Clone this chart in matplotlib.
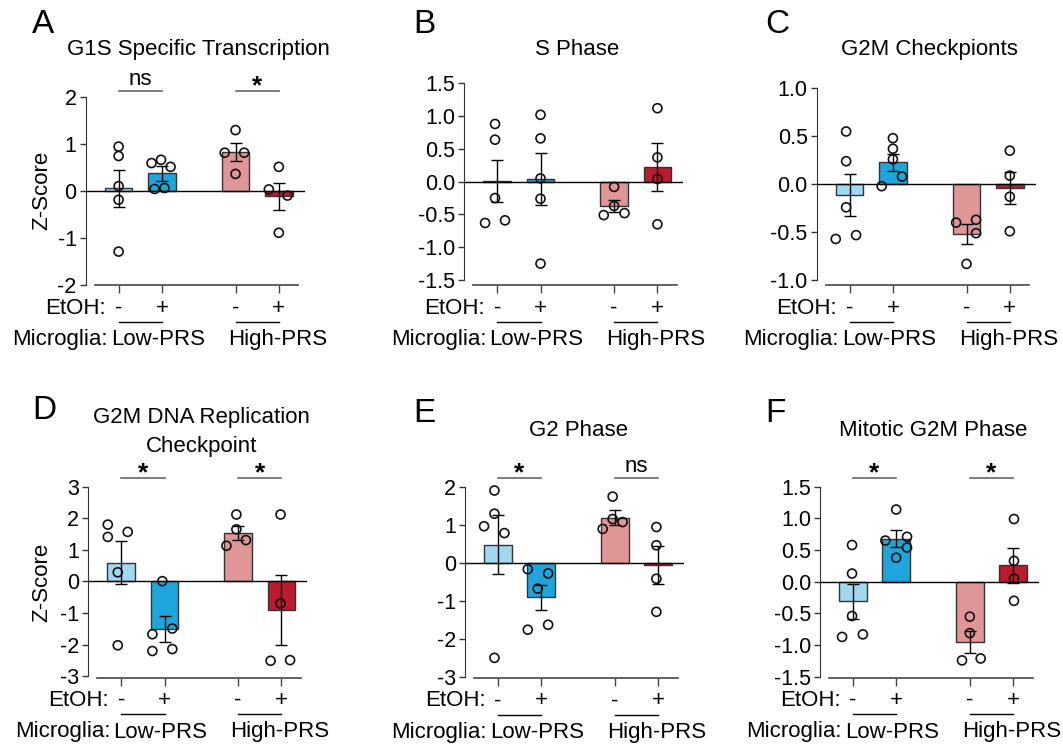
import numpy as np
import matplotlib
matplotlib.use('Agg')
import matplotlib.pyplot as plt
from matplotlib import transforms

plt.rcParams['font.family'] = ['Liberation Sans', 'DejaVu Sans']

W, H = 1063, 749

# groups: Low-PRS -/+ EtOH, High-PRS -/+ EtOH
positions = [0, 1, 2.7, 3.7]
bar_colors = ['#a0d8f0', '#1ea6dc', '#e09597', '#ba1b2e']

# ---- A: G1S Specific Transcription ----
a_means = [0.05, 0.37, 0.83, -0.12]
a_sems = [0.39, 0.16, 0.19, 0.28]
a_points = [[0.94, 0.74, 0.10, -0.19, -1.29],
            [0.59, 0.66, 0.51, 0.04, 0.06],
            [1.29, 0.81, 0.81, 0.36],
            [0.51, 0.03, -0.10, -0.89]]
a_jitter = [[0, 0, 0, 0, 0],
            [-0.24, -0.02, 0.2, -0.17, 0.06],
            [0, -0.25, 0.2, 0],
            [0, -0.23, 0.2, 0]]
a_sig = ['ns', '*']

# ---- B: S Phase ----
b_means = [0.01, 0.04, -0.37, 0.22]
b_sems = [0.315, 0.39, 0.095, 0.365]
b_points = [[0.88, 0.64, -0.25, -0.63, -0.59],
            [1.02, 0.66, 0.05, -0.26, -1.25],
            [-0.08, -0.37, -0.51, -0.48],
            [1.12, 0.37, 0.04, -0.65]]
b_jitter = [[-0.05, -0.05, -0.05, -0.28, 0.18],
            [0, 0, 0, 0, 0],
            [0, 0, -0.24, 0.24],
            [0, 0, 0, 0]]
b_sig = []

# ---- C: G2M Checkpionts ----
c_means = [-0.11, 0.23, -0.52, -0.04]
c_sems = [0.22, 0.09, 0.105, 0.17]
c_points = [[0.55, 0.24, -0.24, -0.57, -0.53],
            [0.48, 0.37, 0.26, -0.02, 0.08],
            [-0.40, -0.37, -0.51, -0.83],
            [0.35, 0.09, -0.13, -0.49]]
c_jitter = [[-0.08, -0.08, -0.08, -0.32, 0.15],
            [0, 0, 0, -0.26, 0.21],
            [-0.24, 0.22, 0.22, 0],
            [0, 0, 0, 0]]
c_sig = []

# ---- D: G2M DNA Replication Checkpoint ----
d_means = [0.60, -1.50, 1.53, -0.90]
d_sems = [0.695, 0.405, 0.225, 1.1]
d_points = [[1.80, 1.41, 1.57, 0.29, -2.02],
            [0.01, -1.67, -1.49, -2.20, -2.14],
            [2.12, 1.65, 1.13, 1.31],
            [2.12, -0.70, -2.51, -2.49]]
d_jitter = [[-0.31, -0.31, 0.15, -0.08, -0.08],
            [-0.05, -0.28, 0.18, -0.28, 0.18],
            [-0.04, -0.04, -0.27, 0.18],
            [-0.02, -0.02, -0.25, 0.2]]
d_sig = ['*', '*']

# ---- E: G2 Phase ----
e_means = [0.48, -0.91, 1.19, -0.07]
e_sems = [0.78, 0.33, 0.195, 0.50]
e_points = [[1.90, 1.29, 0.96, 0.78, -2.50],
            [-0.17, -0.28, -0.68, -1.76, -1.63],
            [1.74, 1.15, 0.89, 1.07],
            [0.94, 0.46, -0.42, -1.29]]
e_jitter = [[-0.08, -0.08, -0.32, 0.15, -0.08],
            [-0.31, 0.16, -0.08, -0.31, 0.16],
            [-0.05, -0.05, -0.28, 0.18],
            [-0.04, -0.04, -0.04, -0.04]]
e_sig = ['*', 'ns']

# ---- F: Mitotic G2M Phase ----
f_means = [-0.31, 0.68, -0.945, 0.26]
f_sems = [0.28, 0.13, 0.175, 0.275]
f_points = [[0.58, 0.13, -0.54, -0.87, -0.83],
            [1.14, 0.65, 0.71, 0.54, 0.38],
            [-0.55, -0.81, -1.24, -1.21],
            [0.99, 0.33, 0.05, -0.30]]
f_jitter = [[-0.02, -0.02, -0.02, -0.25, 0.23],
            [0, -0.25, 0.25, 0.25, 0],
            [0, 0, -0.18, 0.25],
            [0.02, 0.02, 0.02, 0.02]]
f_sig = ['*', '*']

FS = 16
TICK_FS = 15.5
XLIM = (-0.76, 4.3)
UNIT = 43.3  # px per x unit

fig = plt.figure(figsize=(W / 100, H / 100), dpi=100)
# figure pixels measured from the top-left corner
fig_px = transforms.Affine2D().scale(1 / W, -1 / H).translate(0, 1) + fig.transFigure


def draw_panel(letter, title, means, sems, points, jitter, sig, left, top, bottom, ylim, ticks, fmt,
               letter_xy, title_y, sig_y, ylabel=False):
    width = (XLIM[1] - XLIM[0]) * UNIT
    ax = fig.add_axes([left / W, 1 - bottom / H, width / W, (bottom - top) / H])
    ax.set_xlim(*XLIM)
    ax.set_ylim(*ylim)

    ax.bar(positions, means, width=0.64, color=bar_colors, edgecolor='#333333', linewidth=1, zorder=2)
    ax.axhline(0, color='black', lw=1, zorder=3)
    ax.errorbar(positions, means, yerr=sems, fmt='none', ecolor='black', elinewidth=1,
                capsize=4, capthick=1, zorder=4)
    for x, pts, jit in zip(positions, points, jitter):
        ax.scatter(np.array(jit) + x, pts, s=42, facecolors='none', edgecolors='#111111',
                   linewidths=1.2, zorder=5, clip_on=False)

    for s in ['top', 'right']:
        ax.spines[s].set_visible(False)
    ax.spines['left'].set_bounds(ticks[0], ticks[-1])
    ax.spines['left'].set_color('#333333')
    ax.spines['bottom'].set_bounds(-0.55, 4.15)
    ax.spines['bottom'].set_color('#444444')
    ax.spines['bottom'].set_linewidth(1.2)
    ax.set_yticks(ticks)
    ax.set_yticklabels([fmt.format(t) for t in ticks])
    ax.tick_params(axis='y', length=4.5, width=1, pad=2, labelsize=TICK_FS, color='#333333')
    ax.set_xticks(positions)
    ax.set_xticklabels([])
    ax.tick_params(axis='x', length=6, width=1, color='#444444')

    tr = transforms.blended_transform_factory(ax.transData, fig_px)
    # EtOH row
    ax.text(-0.29, bottom + 28.5, 'EtOH:', transform=tr, ha='right', va='baseline', fontsize=FS)
    for x, lab in zip(positions, ['-', '+', '-', '+']):
        ax.text(x, bottom + 28.5, lab, transform=tr, ha='center', va='baseline', fontsize=FS)
    # group underlines and Microglia row
    for i in (0, 2):
        ax.plot([positions[i], positions[i + 1]], [bottom + 36.7] * 2, transform=tr,
                color='black', lw=1, clip_on=False)
    ax.text(-0.25, bottom + 60, 'Microglia:', transform=tr, ha='right', va='baseline', fontsize=FS)
    ax.text(positions[0] - 0.18, bottom + 60, 'Low-PRS', transform=tr, ha='left', va='baseline', fontsize=FS)
    ax.text(positions[2] - 0.18, bottom + 60, 'High-PRS', transform=tr, ha='left', va='baseline', fontsize=FS)

    # significance
    for i, mark in zip((0, 2), sig):
        ax.plot([positions[i], positions[i + 1]], [sig_y] * 2, transform=tr,
                color='#666666', lw=1.2, clip_on=False)
        xm = (positions[i] + positions[i + 1]) / 2
        if mark == '*':
            ax.text(xm, sig_y + 2.5, '*', transform=tr, ha='center', va='baseline',
                    fontsize=19, fontweight='bold')
        else:
            ax.text(xm, sig_y - 6, mark, transform=tr, ha='center', va='baseline', fontsize=FS)

    # title (possibly two lines)
    xc = (positions[0] + positions[-1]) / 2
    for k, line in enumerate(title):
        ax.text(xc, title_y[k], line, transform=tr, ha='center', va='baseline', fontsize=FS)

    fig.text(letter_xy[0] / W, 1 - letter_xy[1] / H, letter, fontsize=24, ha='left', va='baseline')
    if ylabel:
        fig.text(42 / W, 1 - (top + bottom) / 2 / H, 'Z-Score', rotation=90,
                 ha='center', va='center', fontsize=FS)
    return ax


draw_panel('A', ['G1S Specific Transcription'], a_means, a_sems, a_points, a_jitter, a_sig,
           85.7, 96.7, 285, (-2, 2), [-2, -1, 0, 1, 2], '{:.0f}', (32, 33), [55], 91, ylabel=True)
draw_panel('B', ['S Phase'], b_means, b_sems, b_points, b_jitter, b_sig,
           464.3, 83.3, 285, (-1.576, 1.5), [-1.5, -1.0, -0.5, 0.0, 0.5, 1.0, 1.5], '{:.1f}',
           (413, 33), [55], 0)
draw_panel('C', ['G2M Checkpionts'], c_means, c_sems, c_points, c_jitter, c_sig,
           816.7, 88.3, 285, (-1.05, 1.0), [-1.0, -0.5, 0.0, 0.5, 1.0], '{:.1f}',
           (765, 33), [55], 0)
draw_panel('D', ['G2M DNA Replication', 'Checkpoint'], d_means, d_sems, d_points, d_jitter, d_sig,
           88.3, 486.7, 677.5, (-3.04, 3), [-3, -2, -1, 0, 1, 2, 3], '{:.0f}',
           (32, 419), [423, 452], 477.7, ylabel=True)
draw_panel('E', ['G2 Phase'], e_means, e_sems, e_points, e_jitter, e_sig,
           465, 486.7, 678, (-3.03, 2), [-3, -2, -1, 0, 1, 2], '{:.0f}',
           (413, 422), [436], 477.7)
draw_panel('F', ['Mitotic G2M Phase'], f_means, f_sems, f_points, f_jitter, f_sig,
           820, 486.7, 677.5, (-1.51, 1.5), [-1.5, -1.0, -0.5, 0.0, 0.5, 1.0, 1.5], '{:.1f}',
           (765, 422), [436], 477.7)

fig.savefig('out.png', dpi=100)
